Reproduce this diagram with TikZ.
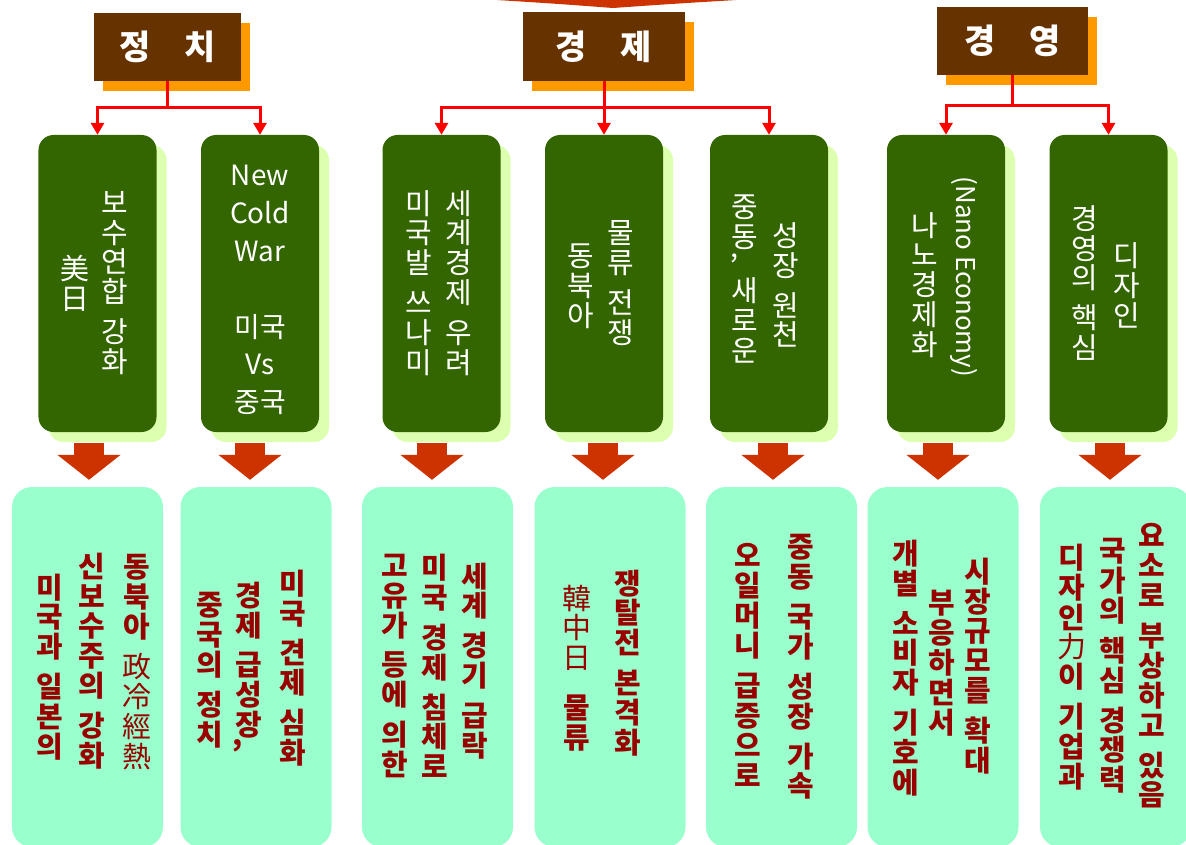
\documentclass[tikz,border=0pt]{standalone}
\usepackage{fontspec}
\setmainfont{Noto Sans CJK KR}
\usetikzlibrary{arrows.meta}
\usetikzlibrary{shadows}

\definecolor{titlebrown}{HTML}{663300}
\definecolor{titleshade}{HTML}{FF9900}
\definecolor{topicgreen}{HTML}{336600}
\definecolor{topicshade}{HTML}{DDFFB0}
\definecolor{resultmint}{HTML}{99FFCC}
\definecolor{resulttext}{HTML}{990000}
\definecolor{bigred}{HTML}{CC3300}

% one column of vertical text: a char per line
\newcommand{\vgap}{\\[10bp]}
\newcommand{\vcomma}{\makebox[0pt][r]{\raisebox{-10bp}{,}\hspace{-7bp}}}
\newcommand{\hanja}[1]{{\mdseries #1}}

\begin{document}
\begin{tikzpicture}
[x=1bp,y=-1bp,%
  title/.style={fill=titlebrown,text=white,minimum height=68bp,inner sep=0pt,%
    font=\fontsize{34}{34}\selectfont\bfseries,%
    drop shadow={shadow xshift=9bp,shadow yshift=-10bp,fill=titleshade,opacity=1}},%
  topic/.style={fill=topicgreen,rounded corners=15bp,minimum width=118bp,minimum height=297bp,%
    drop shadow={shadow xshift=10bp,shadow yshift=-10bp,fill=topicshade,opacity=1}},%
  result/.style={fill=resultmint,rounded corners=20bp,minimum width=151bp,minimum height=360bp},%
  gcol/.style={text=white,align=center,inner sep=0pt,font=\fontsize{29}{30}\selectfont},%
  mcol/.style={text=resulttext,align=center,inner sep=0pt,font=\fontsize{29}{30}\selectfont\bfseries},%
  link/.style={draw=red,line width=3bp,-{Triangle[length=12bp,width=13bp]}},%
  bigarrow/.style={draw=bigred,line width=30bp,-{Triangle[length=25bp,width=62bp]},%
    shorten <=11bp,shorten >=7bp}]
\useasboundingbox (0,0) rectangle (1186,845);

% tail of the big arrow above
\fill[bigred] (497,0) .. controls (560,4) .. (613,8) .. controls (670,4) .. (736,0) -- cycle;

% titles
\node[title,minimum width=147bp] (pol) at (167.5,47) {정\hspace{1em}치};
\node[title,minimum width=162bp] (eco) at (604,46.5) {경\hspace{1em}제};
\node[title,minimum width=151bp] (mgt) at (1012.5,41) {경\hspace{1em}영};

% topics
\node[topic] (t1) at (97.5,283.5) {};
\node[topic] (t2) at (260,283.5) {};
\node[topic] (t3) at (441.5,283.5) {};
\node[topic] (t4) at (604,283.5) {};
\node[topic] (t5) at (769,283.5) {};
\node[topic] (t6) at (946,283.5) {};
\node[topic] (t7) at (1108.5,283.5) {};

\draw[link] (pol.south) -- ++(0,26) -| (t1.north);
\draw[link] (pol.south) -- ++(0,26) -| (t2.north);
\draw[link] (eco.south) -- ++(0,27) -| (t3.north);
\draw[link] (eco.south) -- ++(0,27) -| (t4.north);
\draw[link] (eco.south) -- ++(0,27) -| (t5.north);
\draw[link] (mgt.south) -- ++(0,30) -| (t6.north);
\draw[link] (mgt.south) -- ++(0,30) -| (t7.north);

\node[gcol] (t1r) at (115,283) {보\\수\\연\\합\vgap 강\\화};
\node[gcol] (t1l) at (75,283) {美\\日};
\node[gcol,font=\fontsize{28}{38}\selectfont] (t2c) at (260,290)
  {New\\Cold\\War\\[38bp]미국\\Vs\\중국};
\node[gcol] (t3r) at (459,283) {세\\계\\경\\제\vgap 우\\려};
\node[gcol] (t3l) at (419,283) {미\\국\\발\vgap 쓰\\나\\미};
\node[gcol] (t4r) at (621,283) {물\\류\vgap 전\\쟁};
\node[gcol] (t4l) at (581,286) {동\\북\\아};
\node[gcol] (t5r) at (786,285) {성\\장\vgap 원\\천};
\node[gcol] (t5l) at (745,279) {중\\\vcomma 동\\[13bp]새\\로\\운};
\node[gcol,rotate=-90,font=\fontsize{26}{26}\selectfont] (t6r) at (964,277) {(Nano Economy)};
\node[gcol] (t6l) at (925,285) {나\\노\\경\\제\\화};
\node[gcol] (t7r) at (1127,285) {디\\자\\인};
\node[gcol] (t7l) at (1085,283) {경\\영\\의\vgap 핵\\심};

% results
\node[result] (m1) at (87.5,667) {};
\node[result] (m2) at (256,667) {};
\node[result] (m3) at (437.5,667) {};
\node[result] (m4) at (610,667) {};
\node[result] (m5) at (781.5,667) {};
\node[result] (m6) at (943,667) {};
\node[result] (m7) at (1115.5,667) {};

\foreach \i/\dx in {1/1.5,2/-6,3/-5.5,4/-7,5/-8.5,6/-5,7/-5.5}
  \draw[bigarrow] ([xshift=\dx bp]m\i.north |- t\i.south) -- ([xshift=\dx bp]m\i.north);

\node[mcol] (m1l) at (50,667) {미\\국\\과\vgap 일\\본\\의};
\node[mcol] (m1c) at (92,661) {신\\보\\수\\주\\의\vgap 강\\화};
\node[mcol] (m1r) at (137,662)
  {동\\북\\아\vgap\hanja{政}\\\hanja{冷}\\\hanja{經}\\\hanja{熱}};
\node[mcol] (m2l) at (210,670) {중\\국\\의\vgap 정\\치};
\node[mcol] (m2c) at (249,667) {경\\제\vgap 급\\성\\\vcomma 장};
\node[mcol] (m2r) at (293,668) {미\\국\vgap 견\\제\vgap 심\\화};
\node[mcol] (m3l) at (395,666) {고\\유\\가\vgap 등\\에\vgap 의\\한};
\node[mcol] (m3c) at (435,666) {미\\국\vgap 경\\제\vgap 침\\체\\로};
\node[mcol] (m3r) at (475,661) {세\\계\vgap 경\\기\vgap 급\\락};
\node[mcol] (m4l) at (577,668)
  {\hanja{韓}\\\hanja{中}\\\hanja{日}\\[20bp]물\\류};
\node[mcol] (m4r) at (628,663) {쟁\\탈\\전\vgap 본\\격\\화};
\node[mcol] (m5l) at (748,665) {오\\일\\머\\니\vgap 급\\증\\으\\로};
\node[mcol] (m5r) at (801,667) {중\\동\vgap 국\\가\vgap 성\\장\vgap 가\\속};
\node[mcol] (m6l) at (906,668) {개\\별\vgap 소\\비\\자\vgap 기\\호\\에};
\node[mcol] (m6c) at (942,663) {부\\응\\하\\면\\서};
\node[mcol] (m6r) at (978,666) {시\\장\\규\\모\\를\vgap 확\\대};
\node[mcol] (m7l) at (1072,667) {디\\자\\인\\\hanja{力}\\이\vgap 기\\업\\과};
\node[mcol] (m7c) at (1113,666) {국\\가\\의\vgap 핵\\심\vgap 경\\쟁\\력};
\node[mcol] (m7r) at (1152,666) {요\\소\\로\vgap 부\\상\\하\\고\vgap 있\\음};
\end{tikzpicture}
\end{document}
